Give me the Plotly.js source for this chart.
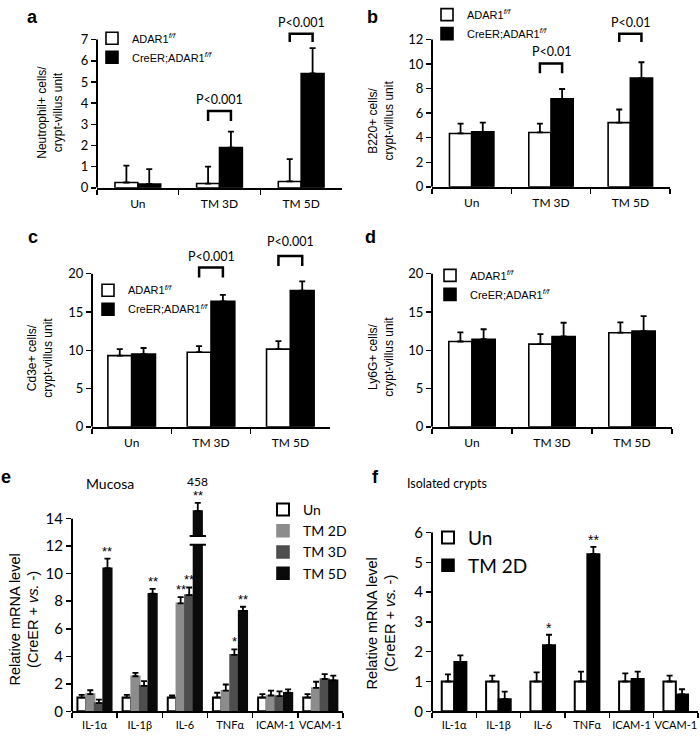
<!DOCTYPE html>
<html><head><meta charset="utf-8">
<script src="https://cdn.plot.ly/plotly-3.0.1.min.js"></script>
<style>html,body{margin:0;padding:0;background:#fff}#chart{width:700px;height:737px}</style>
</head><body><div id="chart"></div>
<script>
// ---------- data ----------
const groups = ['Un', 'TM 3D', 'TM 5D'];
const ctrlName = 'ADAR1<sup><i>f/f</i></sup>';
const koName = 'CreER;ADAR1<sup><i>f/f</i></sup>';

// a: Neutrophil+ cells
const aCtrl = [0.25, 0.2, 0.3];
const aCtrlErr = [0.8, 0.8, 1.05];
const aKO = [0.18, 1.9, 5.4];
const aKOErr = [0.7, 0.75, 1.2];
const aPText = ['', 'P<0.001', 'P<0.001'];
const aPLevels = [null, [3.16, 3.63], [6.89, 7.28]];

// b: B220+ cells
const bCtrl = [4.35, 4.43, 5.23];
const bCtrlErr = [0.8, 0.72, 1.07];
const bKO = [4.48, 7.17, 8.86];
const bKOErr = [0.75, 0.8, 1.29];
const bPText = ['', 'P<0.01', 'P<0.01'];
const bPLevels = [null, [9.26, 10.06], [11.8, 12.48]];

// c: Cd3e+ cells
const cCtrl = [9.3, 9.75, 10.15];
const cCtrlErr = [0.85, 0.8, 1.05];
const cKO = [9.5, 16.4, 17.8];
const cKOErr = [0.8, 0.85, 1.2];
const cPText = ['', 'P<0.001', 'P<0.001'];
const cPLevels = [null, [19.5, 20.8], [21.0, 22.3]];

// d: Ly6G+ cells
const dCtrl = [11.15, 10.8, 12.3];
const dCtrlErr = [1.2, 1.3, 1.35];
const dKO = [11.45, 11.8, 12.5];
const dKOErr = [1.3, 1.8, 1.95];

// e: Mucosa, relative mRNA
const genes = ['IL-1α', 'IL-1β', 'IL-6', 'TNFα', 'ICAM-1', 'VCAM-1'];
const eNames = ['Un', 'TM 2D', 'TM 3D', 'TM 5D'];
const eUn = [1, 1, 1, 1, 1, 1];
const eUnErr = [0.2, 0.2, 0.15, 0.35, 0.25, 0.25];
const eTM2D = [1.25, 2.55, 7.85, 1.5, 1.15, 1.7];
const eTM2DErr = [0.28, 0.25, 0.45, 0.45, 0.35, 0.45];
const eTM3D = [0.6, 1.85, 8.45, 4.1, 1.1, 2.35];
const eTM3DErr = [0.25, 0.35, 0.55, 0.4, 0.35, 0.35];
const eTM5D = [10.4, 8.55, 14.55, 7.3, 1.35, 2.25];   // IL-6 drawn with axis break
const eTM5DErr = [0.7, 0.35, 0.6, 0.3, 0.25, 0.35];
const eStars2D = ['', '', '**', '', '', ''];
const eStars3D = ['', '', '**', '*', '', ''];
const eStars5D = ['**', '**', '**', '**', '', ''];
const eIL6Actual = '458';
const eBreak = [12.1, 12.75];

// f: Isolated crypts
const fNames = ['Un', 'TM 2D'];
const fUn = [1, 1, 1, 1, 1, 1];
const fUnErr = [0.24, 0.2, 0.31, 0.33, 0.27, 0.2];
const fTM2D = [1.66, 0.41, 2.22, 5.28, 1.09, 0.57];
const fTM2DErr = [0.22, 0.25, 0.35, 0.24, 0.24, 0.17];
const fStars = ['', '', '*', '**', '', ''];

// ---------- layout helpers ----------
const W = 700, H = 737;
const X = p => p / W;
const Y = p => 1 - p / H;
const FT = 'Lato, "Open Sans", sans-serif';
const FA = '"Liberation Sans", Arial, sans-serif';
const BLACK = '#000';

// panel geometry (pixels)
const P = {
  a: {xd: [97, 342], y0: 181, s: 21.43, r: 8.2, top: 7, dt: 1, w: 0.28},
  b: {xd: [432, 670], y0: 180, s: 12.42, r: 13, top: 12, dt: 2, w: 0.28},
  c: {xd: [92, 330], y0: 423, s: 7.75, r: 23, top: 20, dt: 5, w: 0.3},
  d: {xd: [432, 672], y0: 423, s: 7.75, r: 20.2, top: 20, dt: 5, w: 0.29},
  e: {xd: [72, 343], y0: 711, s: 13.93, r: 15.4, top: 14, dt: 2, w: 0.19},
  f: {xd: [432, 698], y0: 711, s: 30.17, r: 6.05, top: 6, dt: 1, w: 0.28}
};
const keys = ['a', 'b', 'c', 'd', 'e', 'f'];

const layout = {
  width: W, height: H, margin: {l: 0, r: 0, t: 0, b: 0},
  paper_bgcolor: '#fff', plot_bgcolor: 'rgba(0,0,0,0)',
  barmode: 'overlay', showlegend: true,
  font: {family: FT, color: BLACK},
  annotations: [], shapes: []
};

keys.forEach((k, i) => {
  const p = P[k];
  const n = (k === 'e' || k === 'f') ? genes.length : groups.length;
  const sfx = i === 0 ? '' : String(i + 1);
  const big = (k === 'e' || k === 'f');
  layout['xaxis' + sfx] = {
    domain: [X(p.xd[0]), X(p.xd[1])], anchor: 'y' + sfx, type: 'category',
    range: [-0.5, n - 0.5], showline: true, linewidth: 2, linecolor: BLACK,
    ticks: 'outside', ticklen: 5, tickwidth: 1.5, tickcolor: BLACK, tickson: 'boundaries',
    tickangle: 0, ticklabelstandoff: big ? 2 : 4,
    showgrid: false, zeroline: false, fixedrange: true,
    tickfont: {family: FT, size: big ? 11 : 12, color: BLACK}
  };
  const tv = [];
  for (let v = 0; v <= p.top + 1e-9; v += p.dt) tv.push(v);
  layout['yaxis' + sfx] = {
    domain: [Y(p.y0), Y(p.y0 - p.r * p.s)], anchor: 'x' + sfx,
    range: [0, p.r], tickvals: tv, showline: false, showgrid: false, zeroline: false,
    ticks: 'outside', ticklen: 5, tickwidth: 1.5, tickcolor: BLACK, fixedrange: true,
    tickfont: {family: FT, size: big ? 15 : 13, color: BLACK}
  };
  // y axis line up to top tick
  layout.shapes.push({type: 'line', xref: 'x' + sfx + ' domain', yref: 'y' + sfx,
    x0: 0, x1: 0, y0: 0, y1: p.top, line: {color: BLACK, width: 2}});
});

const traces = [];
const zeros = arr => arr.map(() => 0);
function errY(arr) {
  return {type: 'data', symmetric: false, array: arr, arrayminus: zeros(arr),
    color: BLACK, thickness: 1.8, width: 3};
}
function barTrace(sfx, cats, vals, errs, name, color, lineColor, offset, w, legend, legendrank) {
  return {
    type: 'bar', xaxis: 'x' + sfx, yaxis: 'y' + sfx, x: cats, y: vals, name: name,
    width: w, offset: offset,
    marker: {color: color, line: {color: lineColor, width: 1.6}},
    error_y: errY(errs), legend: legend, legendrank: legendrank, hoverinfo: 'skip'
  };
}

// panels a-d
const pairs = [
  ['a', '', aCtrl, aCtrlErr, aKO, aKOErr, 'legend'],
  ['b', '2', bCtrl, bCtrlErr, bKO, bKOErr, 'legend2'],
  ['c', '3', cCtrl, cCtrlErr, cKO, cKOErr, 'legend3'],
  ['d', '4', dCtrl, dCtrlErr, dKO, dKOErr, 'legend4']
];
pairs.forEach(([k, sfx, v1, e1, v2, e2, leg]) => {
  const w = P[k].w;
  traces.push(barTrace(sfx, groups, v1, e1, ctrlName, '#fff', BLACK, -w, w, leg, 1));
  traces.push(barTrace(sfx, groups, v2, e2, koName, BLACK, BLACK, 0, w, leg, 2));
});

// panel e
const eVals = [eUn, eTM2D, eTM3D, eTM5D];
const eErrs = [eUnErr, eTM2DErr, eTM3DErr, eTM5DErr];
const eCols = ['#fff', '#8c8c8c', '#4e4e4e', '#0a0a0a'];
const eLines = [BLACK, '#8c8c8c', '#4e4e4e', '#0a0a0a'];
eVals.forEach((v, j) => {
  const w = P.e.w;
  traces.push(barTrace('5', genes, v, eErrs[j], eNames[j], eCols[j], eLines[j], (j - 2) * w, w, 'legend5', j + 1));
});
// panel f
[fUn, fTM2D].forEach((v, j) => {
  const w = P.f.w;
  traces.push(barTrace('6', genes, v, [fUnErr, fTM2DErr][j], fNames[j], j ? BLACK : '#fff', BLACK, (j - 1) * w, w, 'legend6', j + 1));
});
traces[traces.length - 2].marker.line.width = 2;
traces[traces.length - 6].marker.line.width = 2;

// legends
function leg(xp, yp, size, fam) {
  return {x: X(xp), y: Y(yp), xanchor: 'left', yanchor: 'top', bgcolor: 'rgba(0,0,0,0)',
    font: {family: fam, size: size, color: BLACK}, itemwidth: 30, tracegroupgap: 0,
    traceorder: 'normal'};
}
layout.legend = leg(92, 15, 11, FA);
layout.legend2 = leg(427, -9, 11, FA);
layout.legend3 = leg(88, 270, 11, FA);
layout.legend4 = leg(430, 255, 11, FA);
layout.legend5 = leg(263, 491, 14, FT);
layout.legend6 = leg(428, 516, 19, FT);

// significance brackets
function brackets(sfx, levels, texts, w, shifts) {
  levels.forEach((lv, i) => {
    if (!lv) return;
    const x0 = i - w / 2, x1 = i + w / 2;
    layout.shapes.push({type: 'path', xref: 'x' + sfx, yref: 'y' + sfx,
      path: `M${x0},${lv[0]} L${x0},${lv[1]} L${x1},${lv[1]} L${x1},${lv[0]}`,
      line: {color: BLACK, width: 2.5}});
    layout.annotations.push({xref: 'x' + sfx, yref: 'y' + sfx, x: i, y: lv[1], yanchor: 'bottom',
      yshift: shifts[i], text: texts[i], showarrow: false, font: {family: FT, size: 12.5, color: BLACK}});
  });
}
brackets('', aPLevels, aPText, P.a.w, [0, 2, 2]);
brackets('2', bPLevels, bPText, P.b.w, [0, 2, 2]);
brackets('3', cPLevels, cPText, P.c.w, [0, 2, 5]);

// stars
function stars(sfx, vals, errs, marks, xoff, size, shift) {
  marks.forEach((s, i) => {
    if (!s) return;
    layout.annotations.push({xref: 'x' + sfx, yref: 'y' + sfx, x: i + xoff, y: vals[i] + errs[i],
      yanchor: 'bottom', yshift: shift, text: s, showarrow: false,
      font: {family: FA, size: size, color: BLACK}});
  });
}
stars('5', eTM2D, eTM2DErr, eStars2D, -0.5 * P.e.w, 13, -2);
stars('5', eTM3D, eTM3DErr, eStars3D, 0.5 * P.e.w, 13, -2);
stars('5', eTM5D, eTM5DErr, eStars5D, 1.5 * P.e.w, 13, -2);
stars('6', fTM2D, fTM2DErr, fStars, 0.5 * P.f.w, 14, -3);

// IL-6 axis break and true value
const il6 = genes.indexOf('IL-6');
const c5 = il6 + 1.5 * P.e.w;
layout.shapes.push({type: 'rect', xref: 'x5', yref: 'y5', x0: c5 - 0.75 * P.e.w, x1: c5 + 0.75 * P.e.w,
  y0: eBreak[0], y1: eBreak[1], fillcolor: '#fff', line: {width: 0}});
eBreak.forEach(b => layout.shapes.push({type: 'line', xref: 'x5', yref: 'y5',
  x0: c5 - 0.95 * P.e.w, x1: c5 + 0.95 * P.e.w, y0: b, y1: b, line: {color: BLACK, width: 2}}));
layout.annotations.push({xref: 'x5', yref: 'y5', x: c5, y: eTM5D[il6] + eTM5DErr[il6], yanchor: 'bottom',
  yshift: 12, text: eIL6Actual, showarrow: false, font: {family: FT, size: 12, color: BLACK}});

// axis titles
function ytitle(xp, yp, text, size) {
  layout.annotations.push({xref: 'paper', yref: 'paper', x: X(xp), y: Y(yp), text: text, textangle: -90,
    showarrow: false, xanchor: 'center', yanchor: 'middle', font: {family: FA, size: size, color: BLACK}});
}
ytitle(50, 105, 'Neutrophil+ cells/<br>crypt-villus unit', 12);
ytitle(381, 113, 'B220+ cells/<br>crypt-villus unit', 12);
ytitle(40, 353, 'Cd3e+ cells/<br>crypt-villus unit', 12);
ytitle(381, 352, 'Ly6G+ cells/<br>crypt-villus unit', 12);
ytitle(24, 618, 'Relative mRNA level<br>(CreER + <i>vs.</i> -)', 14.5);
ytitle(381, 622, 'Relative mRNA level<br>(CreER + <i>vs.</i> -)', 14.5);

// panel letters and subtitles
function txt(xp, yp, text, size, fam, xanchor) {
  layout.annotations.push({xref: 'paper', yref: 'paper', x: X(xp), y: Y(yp), text: text, showarrow: false,
    xanchor: xanchor || 'center', yanchor: 'middle', font: {family: fam, size: size, color: BLACK}});
}
[['a', 32, 8], ['b', 373, 8], ['c', 33, 231], ['d', 370, 231], ['e', 6, 474], ['f', 375, 474]]
  .forEach(([t, x, y]) => txt(x, y, '<b>' + t + '</b>', 18, FA));
txt(110, 480, 'Mucosa', 14, FT);
txt(447, 480, 'Isolated crypts', 12.5, FT);

Plotly.newPlot('chart', traces, layout, {staticPlot: true, displayModeBar: false});
</script></body></html>
